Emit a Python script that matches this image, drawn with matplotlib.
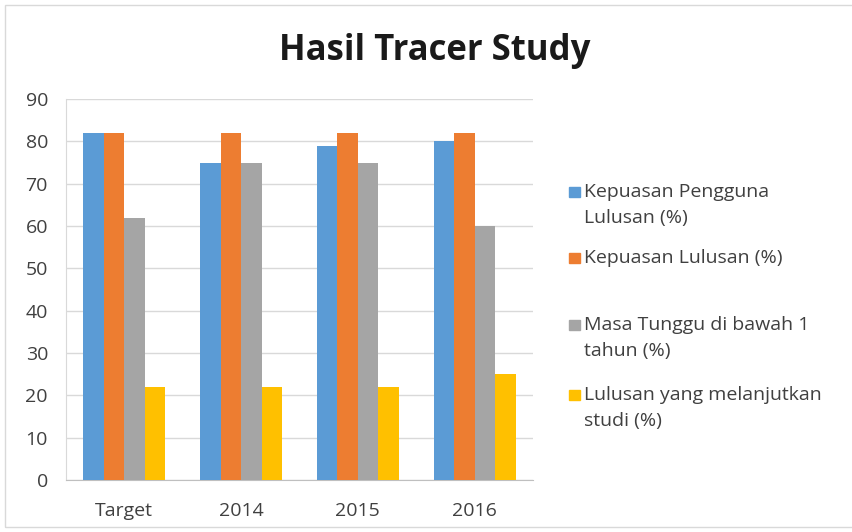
import matplotlib.pyplot as plt
import matplotlib.patches as mpatches
import numpy as np

categories = ['Target', '2014', '2015', '2016']
kepuasan_pengguna = [82, 75, 79, 80]
kepuasan_lulusan = [82, 82, 82, 82]
masa_tunggu = [62, 75, 75, 60]
melanjutkan_studi = [22, 22, 22, 25]

labels = ['Kepuasan Pengguna\nLulusan (%)', 'Kepuasan Lulusan (%)',
          'Masa Tunggu di bawah 1\ntahun (%)', 'Lulusan yang melanjutkan\nstudi (%)']
colors = ['#5B9BD5', '#ED7D31', '#A5A5A5', '#FFC000']
series = [kepuasan_pengguna, kepuasan_lulusan, masa_tunggu, melanjutkan_studi]

plt.rcParams['font.family'] = ['Open Sans', 'DejaVu Sans']

W, H = 853, 532
fig = plt.figure(figsize=(W / 100, H / 100), dpi=100)
ax = fig.add_axes([66 / W, 1 - 480 / H, (533 - 66) / W, (480 - 99) / H])

x = np.arange(len(categories))
width = 0.176
for i, values in enumerate(series):
    ax.bar(x + (i - 1.5) * width, values, width, color=colors[i], label=labels[i], zorder=3)

ax.set_xlim(-0.5, len(categories) - 0.5)
ax.set_ylim(0, 90)
ax.set_yticks(range(0, 91, 10))
ax.set_xticks(x)
ax.set_xticklabels(categories)
ax.grid(axis='y', color='#D9D9D9', linewidth=1, zorder=0)
ax.tick_params(length=0, labelsize=14, colors='#404040')
ax.tick_params(axis='y', pad=13)
ax.tick_params(axis='x', pad=16)
for s in ['top', 'right']:
    ax.spines[s].set_visible(False)
ax.spines['left'].set_color('#D9D9D9')
ax.spines['bottom'].set_color('#BFBFBF')

fig.text(435 / W, 1 - 60 / H, 'Hasil Tracer Study', ha='center', va='baseline',
         fontsize=25, fontweight='bold', color='#1a1a1a')

# legend drawn by hand, Excel spaces the entries unevenly
legend_y = [192, 258, 325, 395]
for lab, col, yy in zip(labels, colors, legend_y):
    fig.patches.append(mpatches.Rectangle((569 / W, 1 - (yy + 5) / H), 11 / W, 10 / H,
                                          transform=fig.transFigure, color=col))
    fig.text(584 / W, 1 - (yy - 9) / H, lab, ha='left', va='top', fontsize=14,
             color='#404040', linespacing=1.55)

fig.patches.append(mpatches.Rectangle((5 / W, 5 / H), 850 / W, 522 / H,
                                      transform=fig.transFigure, fill=False,
                                      edgecolor='#D9D9D9', linewidth=1))

fig.savefig('out.png', dpi=100)
